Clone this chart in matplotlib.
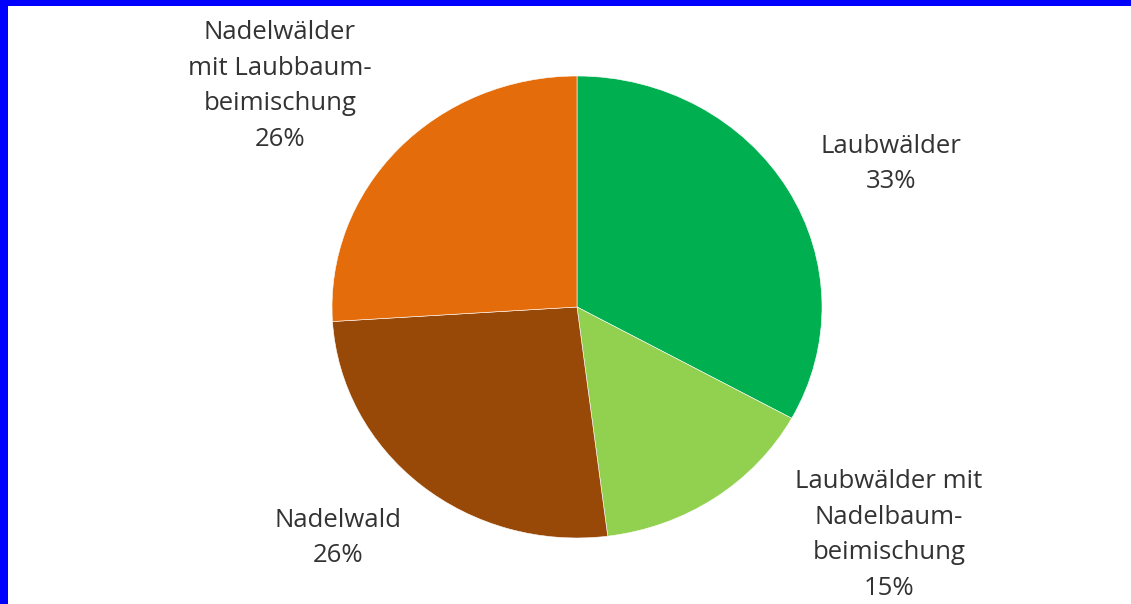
import matplotlib
matplotlib.use("Agg")
import matplotlib.pyplot as plt
from matplotlib.patches import Rectangle

# Forest type shares (percent), clockwise from 12 o'clock
categories = [
    "Laubwälder",
    "Laubwälder mit\nNadelbaum-\nbeimischung",
    "Nadelwald",
    "Nadelwälder\nmit Laubbaum-\nbeimischung",
]
shares = [33, 15, 26, 26]
colors = ["#00B050", "#92D050", "#984807", "#E46C0A"]

W, H = 1131, 604
fig = plt.figure(figsize=(W / 100, H / 100), dpi=100)
fig.patch.set_facecolor("white")

# pie axes spans the (slightly elliptical) pie bounding box in pixels
px0, px1 = 332, 822
py0, py1 = 76, 538
ax = fig.add_axes([px0 / W, 1 - py1 / H, (px1 - px0) / W, (py1 - py0) / H])
ax.pie(shares, colors=colors, startangle=90, counterclock=False,
       radius=1.0, wedgeprops=dict(edgecolor="white", linewidth=0.4))
ax.set_xlim(-1, 1)
ax.set_ylim(-1, 1)
ax.set_aspect("auto")
ax.axis("off")

# label centres in pixel coordinates
label_pos = [(891, 164), (889, 535), (338, 538), (280, 86)]
for name, val, (x, y) in zip(categories, shares, label_pos):
    fig.text(x / W, 1 - y / H, f"{name}\n{val}%", ha="center", va="center",
             fontsize=18.5, family="Open Sans", color="#333333",
             linespacing=1.55)

# blue frame along left and top edges
fig.patches.append(Rectangle((0, 0), 8 / W, 1, transform=fig.transFigure,
                             facecolor="#0000FF", edgecolor="none"))
fig.patches.append(Rectangle((0, 1 - 6 / H), 1, 6 / H, transform=fig.transFigure,
                             facecolor="#0000FF", edgecolor="none"))

fig.savefig("out.png", dpi=100, facecolor="white")
